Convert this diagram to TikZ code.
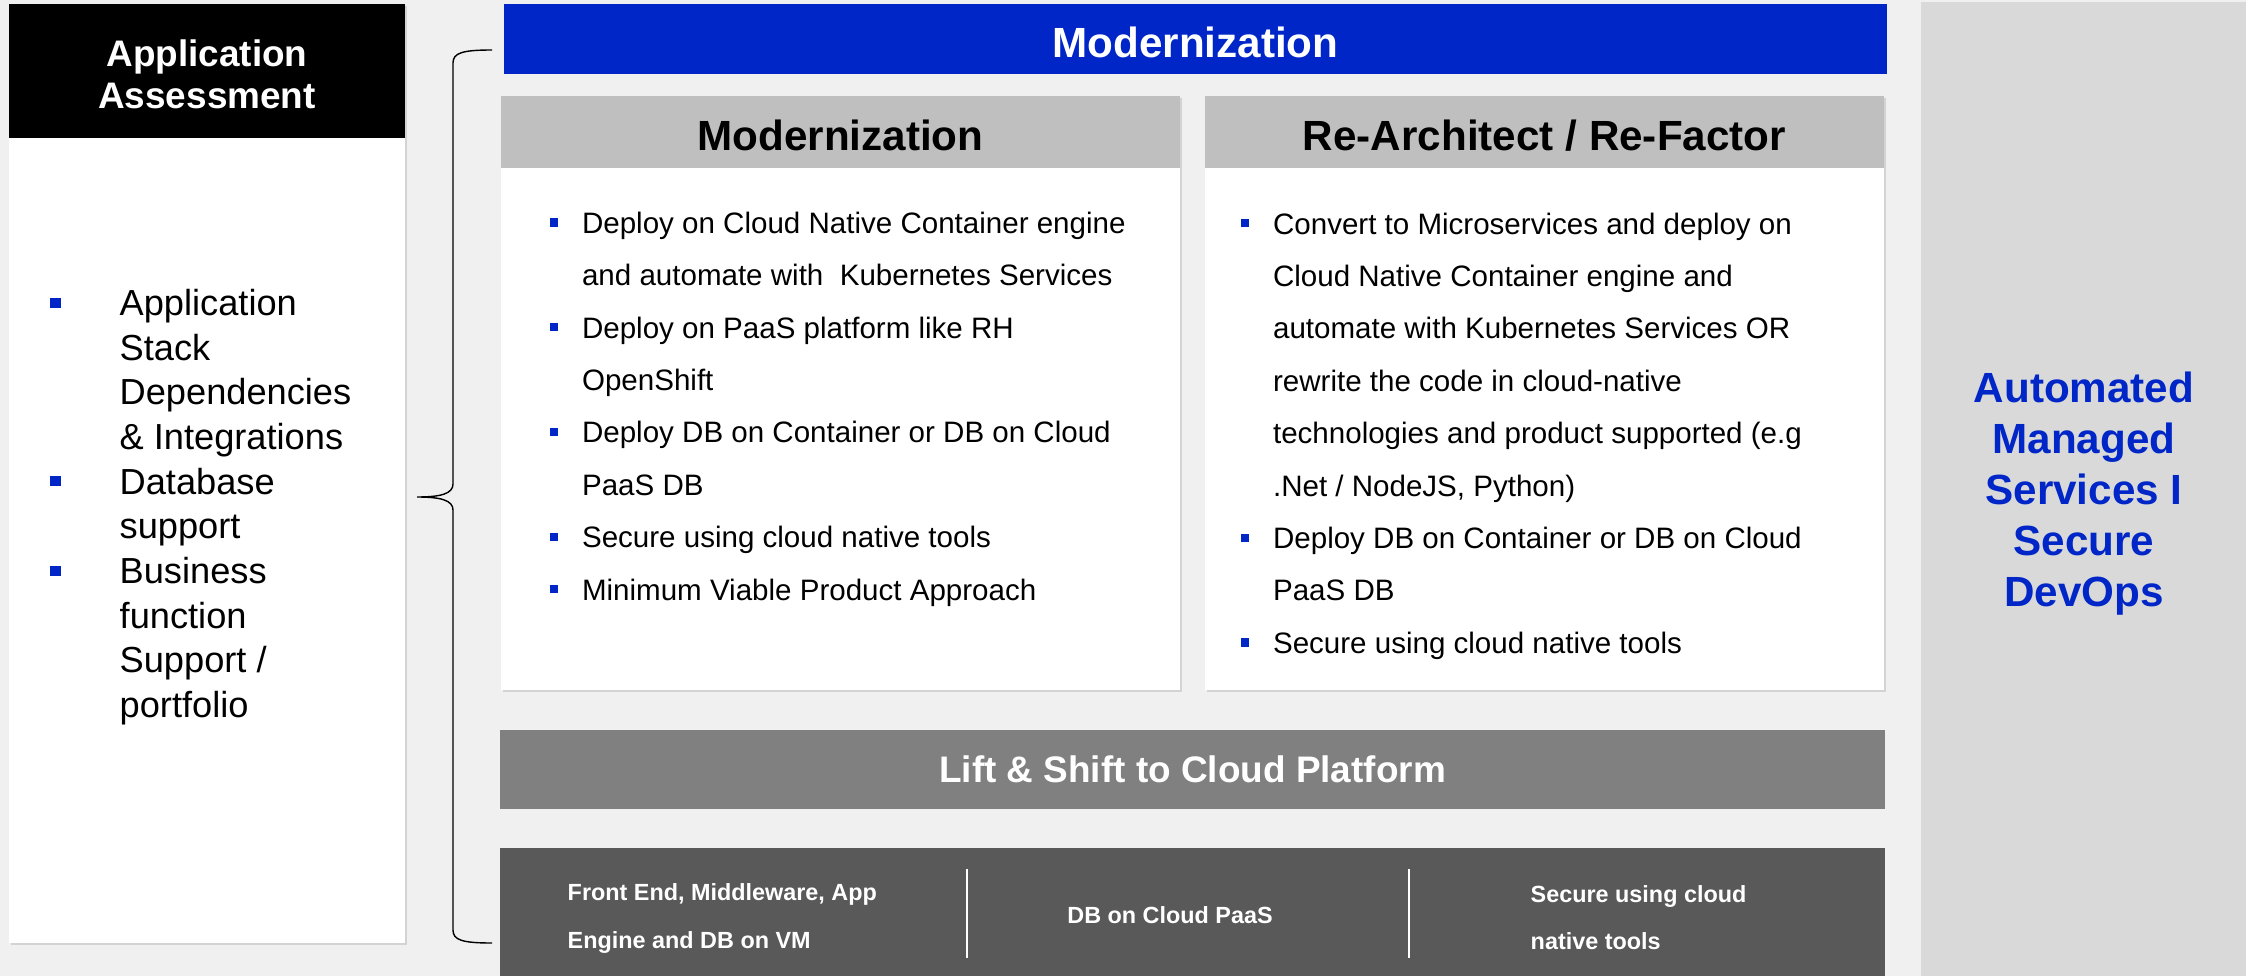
\documentclass[tikz,border=0pt]{standalone}
\usepackage{fontspec}
\setmainfont{Liberation Sans}
\usetikzlibrary{shadows}

\definecolor{bggrey}{HTML}{F0F0F0}
\definecolor{modblue}{HTML}{0026C8}
\definecolor{headgrey}{HTML}{BFBFBF}
\definecolor{liftgrey}{HTML}{808080}
\definecolor{basegrey}{HTML}{595959}
\definecolor{sidegrey}{HTML}{D9D9D9}

% bullets and continuation indents
\newcommand{\sqbig}{\makebox[19.9pt][l]{\textcolor{modblue}{\rule[2.2pt]{3.1pt}{2.8pt}}}}
\newcommand{\indbig}{\hspace*{19.9pt}}
\newcommand{\sqsmall}{\makebox[9.2pt][l]{\textcolor{modblue}{\rule[1.9pt]{2.3pt}{2.3pt}}}}
\newcommand{\indsmall}{\hspace*{9.2pt}}

\begin{document}
\begin{tikzpicture}[x=0.01cm, y=-0.01cm,
    panel/.style={rectangle, inner sep=0, outer sep=0},
    cardshadow/.style={drop shadow={shadow xshift=0.6pt, shadow yshift=-0.6pt, opacity=0.25}},
    headtext/.style={font=\fontsize{12}{14}\selectfont\bfseries, text height=10.5pt, text depth=0pt},
    bodytext/.style={inner sep=0, align=left, font=\fontsize{8.4}{14.9}\selectfont},
    bartext/.style={inner sep=0, align=left, text=white, font=\fontsize{6.65}{13.4}\selectfont\bfseries}]

  \useasboundingbox (0,0) rectangle (2246,976);
  \fill[bggrey] (0,0) rectangle (2246,976);

  \begin{scope}[every node/.style={panel}]
    \node (assess) [fill=white, cardshadow, minimum width=3.96cm, minimum height=9.39cm] at (207,473.5) {};
    \node (assesshead) [fill=black, minimum width=3.96cm, minimum height=1.34cm] at (207,71) {};

    \node (banner) [fill=modblue, text=white, headtext, minimum width=13.83cm, minimum height=0.70cm] at (1195.5,39) {Modernization};

    \node (modcard) [fill=white, cardshadow, minimum width=6.79cm, minimum height=5.94cm] at (840.5,393) {};
    \node (modhead) [fill=headgrey, headtext, minimum width=6.79cm, minimum height=0.72cm] at (840.5,132) {Modernization};

    \node (archcard) [fill=white, cardshadow, minimum width=6.79cm, minimum height=5.94cm] at (1544.5,393) {};
    \node (archhead) [fill=headgrey, headtext, minimum width=6.79cm, minimum height=0.72cm] at (1544.5,132) {Re-Architect / Re-Factor};

    \node (lift) [fill=liftgrey, text=white, minimum width=13.85cm, minimum height=0.79cm,
      font=\fontsize{10.5}{12}\selectfont\bfseries] at (1192.5,769.5) {Lift \& Shift to Cloud Platform};

    \node (base) [fill=basegrey, minimum width=13.85cm, minimum height=1.28cm] at (1192.5,912) {};

    \node (managed) [fill=sidegrey, minimum width=3.25cm, minimum height=9.74cm] at (2083.5,489) {};
  \end{scope}

  % titles
  \node (assesstitle) [text=white, inner sep=0, align=center, font=\fontsize{10.5}{12}\selectfont\bfseries]
    at (207,74) {Application\\Assessment};
  \node (managedtitle) [text=modblue, inner sep=0, align=center, font=\fontsize{12}{14.5}\selectfont\bfseries]
    at (2084,493.5) {Automated\\Managed\\Services I\\Secure\\DevOps};

  % lists
  \node (assesslist) [anchor=west, inner sep=0, align=left, font=\fontsize{10.3}{12.7}\selectfont] at (49,507)
    {\sqbig Application\\ \indbig Stack\\ \indbig Dependencies\\ \indbig \& Integrations\\
     \sqbig Database\\ \indbig support\\ \sqbig Business\\ \indbig function\\ \indbig Support /\\ \indbig portfolio};

  \node (modlist) [anchor=west, bodytext] at (549,409)
    {\sqsmall Deploy on Cloud Native Container engine\\
     \indsmall and automate with\ \ Kubernetes Services\\
     \sqsmall Deploy on PaaS platform like RH\\
     \indsmall OpenShift\\
     \sqsmall Deploy DB on Container or DB on Cloud\\
     \indsmall PaaS DB\\
     \sqsmall Secure using cloud native tools\\
     \sqsmall Minimum Viable Product Approach};

  \node (archlist) [anchor=west, bodytext] at (1240,436)
    {\sqsmall Convert to Microservices and deploy on\\
     \indsmall Cloud Native Container engine and\\
     \indsmall automate with Kubernetes Services OR\\
     \indsmall rewrite the code in cloud-native\\
     \indsmall technologies and product supported (e.g\\
     \indsmall .Net / NodeJS, Python)\\
     \sqsmall Deploy DB on Container or DB on Cloud\\
     \indsmall PaaS DB\\
     \sqsmall Secure using cloud native tools};

  % bottom bar
  \node (vmtext) [anchor=west, bartext] at (567,918.5) {Front End, Middleware, App\\Engine and DB on VM};
  \node (paastext) [bartext] at (1170,915.5) {DB on Cloud PaaS};
  \node (sectext) [anchor=west, bartext] at (1530,917.5) {Secure using cloud\\native tools};

  \coordinate (div1top) at (967,869);
  \coordinate (div1bot) at (967,958);
  \coordinate (div2top) at (1409,869);
  \coordinate (div2bot) at (1409,958);
  \draw[white, line width=0.4pt] (div1top) -- (div1bot);
  \draw[white, line width=0.4pt] (div2top) -- (div2bot);

  % brace
  \coordinate (bracetop) at (492,50);
  \coordinate (bracetip) at (417,497);
  \coordinate (bracebot) at (492,943);
  \draw[line width=0.4pt] (bracetop) .. controls (462,50) and (453,53) .. (453,63)
    -- (453,484) .. controls (453,494) and (440,497) .. (bracetip)
    .. controls (440,497) and (453,500) .. (453,510)
    -- (453,930) .. controls (453,940) and (462,943) .. (bracebot);

\end{tikzpicture}
\end{document}
